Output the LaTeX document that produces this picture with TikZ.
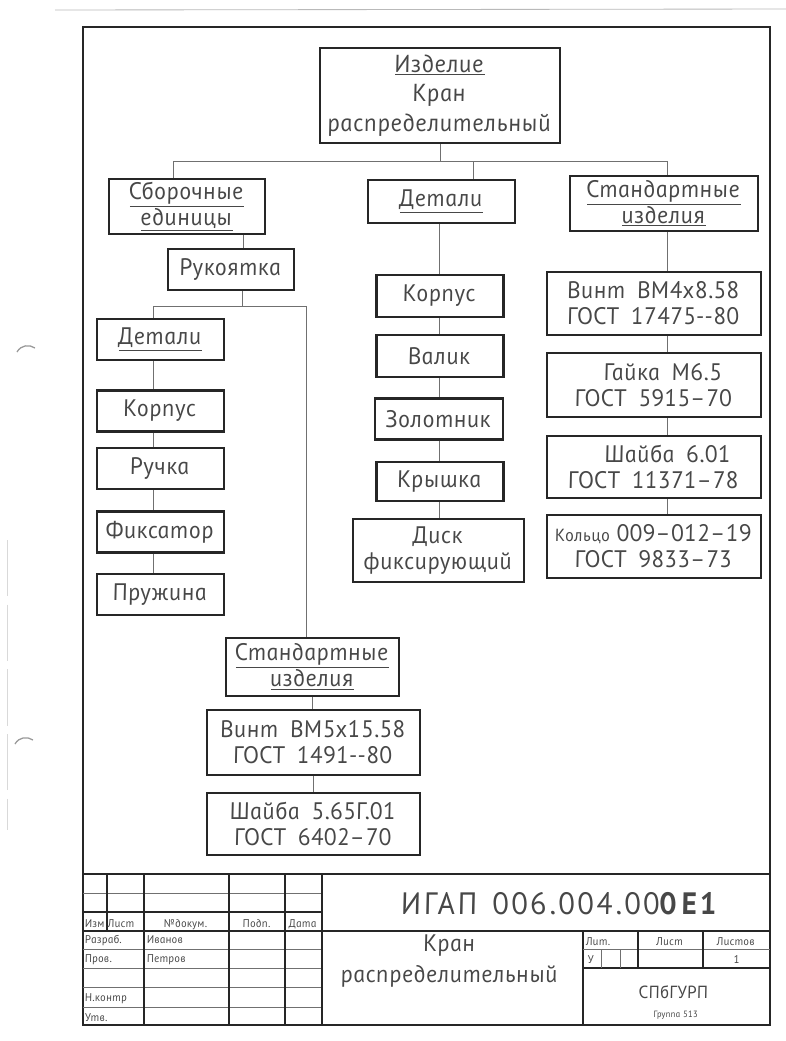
\documentclass[tikz,border=0pt]{standalone}
\usepackage{fontspec}
\setmainfont{PT Sans}[
  ItalicFeatures={FakeSlant=-0.19},
  BoldItalicFeatures={FakeSlant=-0.19},
  LetterSpace=2.5]
\usetikzlibrary{calc}
\definecolor{ink}{HTML}{474747}
\definecolor{rule}{HTML}{262626}
\definecolor{thin}{HTML}{707070}
\newcommand{\px}{0.025cm}
\tikzset{
        spec-box/.style={
            draw=rule, line width=1.5pt, fill=white, inner sep=0pt,
            align=center, text=ink, font=\itshape\fontsize{17}{18.5}\selectfont
        },
        col-box/.style={spec-box, minimum width=127*\px, minimum height=41*\px},
        std-box/.style={spec-box, minimum width=214*\px, minimum height=63*\px},
        link/.style={draw=thin, line width=0.7pt},
        frame/.style={draw=rule, line width=1.6pt},
        tb-thick/.style={draw=rule, line width=1.3pt},
        tb-thin/.style={draw=thin, line width=0.5pt},
        tb-small/.style={text=ink, inner sep=0pt, font=\itshape\fontsize{8}{9}\selectfont},
        tb-big/.style={text=ink, inner sep=0pt, align=center, font=\itshape\fontsize{17}{22}\selectfont},
}

\begin{document}
\begin{tikzpicture}[x=\px, y=-\px]

        \useasboundingbox (0,0) rectangle (786,1041);

        % PAPER EDGE AND PUNCH MARKS
        \draw [gray!55, line width=0.6pt] (55,10) -- (786,9);
        \draw [gray!30, line width=0.5pt, dash pattern=on 40 off 6] (7,540) -- (7,830);
        \draw [gray!80, line width=0.9pt] (17,352) .. controls (21,345) and (29,344) .. (35,348);
        \draw [gray!80, line width=0.9pt] (15,744) .. controls (19,737) and (27,736) .. (33,740);

        % SHEET FRAME
        \draw [frame] (83,27) rectangle (770,1025);

        % DRAW NODES (tree heads first, the rest below them)
        \node[spec-box, minimum width=240*\px, minimum height=95*\px,
              font=\itshape\fontsize{17.5}{21}\selectfont]
                                     (IZD)     at (440,95.5)             {\underline{Изделие}\\Кран\\распределительный};
        \node[spec-box, minimum width=156*\px, minimum height=55*\px]
                                     (SBOR)    at ($(IZD)+(-253,111)$)   {\underline{Сборочные}\\\underline{единицы}};
        \node[spec-box, minimum width=147*\px, minimum height=43*\px]
                                     (DET)     at ($(IZD)+(1.5,106)$)    {\underline{Детали}};
        \node[spec-box, minimum width=188*\px, minimum height=55*\px]
                                     (STD)     at ($(IZD)+(224,108)$)    {\underline{Стандартные}\\\underline{изделия}};

        % assembly unit branch
        \node[col-box, minimum width=126*\px]
                                     (RUK)     at ($(SBOR)+(44,63)$)     {Рукоятка};
        \node[col-box]               (DET2)    at ($(RUK)+(-70.5,70)$)   {\underline{Детали}};
        \node[col-box]               (KORP2)   at ($(DET2)+(0,71.5)$)    {Корпус};
        \node[col-box]               (RUCH)    at ($(KORP2)+(0,57.5)$)   {Ручка};
        \node[col-box]               (FIKS)    at ($(RUCH)+(0,63.5)$)    {Фиксатор};
        \node[col-box]               (PRUZH)   at ($(FIKS)+(0,62.5)$)    {Пружина};
        \node[spec-box, minimum width=173*\px, minimum height=58*\px]
                                     (STD2)    at ($(RUK)+(81.5,397.5)$) {\underline{Стандартные}\\\underline{изделия}};
        \node[std-box, minimum width=213*\px, minimum height=65*\px]
                                     (VINT2)   at ($(STD2)+(1,75.5)$)    {Винт\enspace BM5x15.58\\ГОСТ\enspace 1491-{}-80};
        \node[std-box, minimum width=213*\px, minimum height=62*\px]
                                     (SHAIBA2) at ($(VINT2)+(0,81.5)$)   {Шайба\enspace 5.65Г.01\\ГОСТ\enspace 6402–70};

        % parts column
        \node[col-box, minimum height=42*\px]
                                     (KORP)    at ($(DET)+(-1.5,94.5)$)  {Корпус};
        \node[col-box, minimum height=42*\px]
                                     (VAL)     at ($(KORP)+(0,60)$)      {Валик};
        \node[col-box, minimum width=128*\px]
                                     (ZOL)     at ($(VAL)+(-1,63)$)      {Золотник};
        \node[col-box, minimum height=39*\px]
                                     (KRYSH)   at ($(ZOL)+(1,62.5)$)     {Крышка};
        \node[spec-box, minimum width=171*\px, minimum height=63*\px]
                                     (DISK)    at ($(KRYSH)+(-1.5,69)$)  {Диск\\фиксирующий};

        % standard items column
        \node[std-box]               (VINT)    at ($(STD)+(-10,100)$)    {Винт\enspace BM4x8.58\\ГОСТ\enspace 17475-{}-80};
        \node[std-box, minimum height=64*\px]
                                     (GAIKA)   at ($(VINT)+(0,81.5)$)    {\hspace*{0.8em}Гайка\enspace M6.5\\ГОСТ\enspace 5915–70};
        \node[std-box, minimum height=62*\px]
                                     (SHAIBA)  at ($(GAIKA)+(0,82)$)     {\hspace*{1.2em}Шайба\enspace 6.01\\ГОСТ\enspace 11371–78};
        \node[std-box]               (KOLCO)   at ($(SHAIBA)+(0,79.5)$)  {{\fontsize{12.5}{14}\selectfont Кольцо} 009–012–19\\ГОСТ\enspace 9833–73};

        % CONNECT TOP LEVEL
        \coordinate (BUS-L)  at ($(IZD)+(-267,65.5)$);
        \coordinate (BUS-R)  at ($(IZD)+(227,65.5)$);
        \coordinate (DET-IN) at ($(DET.north)+(31.5,0)$);
        \draw [link] (IZD.south) -- (IZD.south |- BUS-L);
        \draw [link] (SBOR.north -| BUS-L) -- (BUS-L) -- (BUS-R) -- (STD.north -| BUS-R);
        \draw [link] (DET-IN) -- (DET-IN |- BUS-L);

        % CONNECT ASSEMBLY UNIT
        \coordinate (SB-OUT) at ($(SBOR.south)+(56,0)$);
        \coordinate (RK-OUT) at ($(RUK.south)+(11,0)$);
        \coordinate (RB-L)   at ($(RUK.south)+(-78,15)$);
        \coordinate (RB-R)   at ($(RUK.south)+(75,15)$);
        \draw [link] (SB-OUT) -- (SB-OUT |- RUK.north);
        \draw [link] (RK-OUT) -- (RK-OUT |- RB-L);
        \draw [link] (DET2.north -| RB-L) -- (RB-L) -- (RB-R) -- (STD2.north -| RB-R);
        \foreach \a/\b in {DET2/KORP2, KORP2/RUCH, RUCH/FIKS, FIKS/PRUZH}
            \draw [link] (\a.south -| RB-L) -- (\b.north -| RB-L);
        \foreach \a/\b in {STD2/VINT2, VINT2/SHAIBA2}
            \draw [link] (\a.south) -- (\a.south |- \b.north);

        % CONNECT PARTS AND STANDARD ITEMS
        \coordinate (MID-X) at ($(DET.south)+(-2.5,0)$);
        \foreach \a/\b in {DET/KORP, KORP/VAL, VAL/ZOL, ZOL/KRYSH, KRYSH/DISK}
            \draw [link] (\a.south -| MID-X) -- (\b.north -| MID-X);
        \foreach \a/\b in {STD/VINT, VINT/GAIKA, GAIKA/SHAIBA, SHAIBA/KOLCO}
            \draw [link] (\a.south -| BUS-R) -- (\b.north -| BUS-R);

        % TITLE BLOCK GRID
        \draw [tb-thick] (83,874) -- (770,874);
        \draw [tb-thick] (83,912) -- (322,912);
        \draw [tb-thick] (83,931) -- (770,931);
        \foreach \y in {893, 949, 968, 987, 1007}
            \draw [tb-thin] (83,\y) -- (322,\y);
        \draw [tb-thick] (107,874) -- (107,931);
        \foreach \x in {144, 229, 285, 322}
            \draw [tb-thick] (\x,874) -- (\x,1025);
        \draw [tb-thick] (583,931) -- (583,1025);
        \draw [tb-thin]  (583,949) -- (770,949);
        \draw [tb-thick] (583,968) -- (770,968);
        \foreach \x in {638, 703}
            \draw [tb-thick] (\x,931) -- (\x,968);
        \foreach \x in {601, 620}
            \draw [tb-thin] (\x,949) -- (\x,968);

        % TITLE BLOCK TEXT
        \node[tb-small, anchor=base west] (T-IZM)  at (85,927)   {Изм Лист};
        \node[tb-small, anchor=base]      (T-DOC)  at (186,927)  {№докум.};
        \node[tb-small, anchor=base]      (T-SIGN) at (257,927)  {Подп.};
        \node[tb-small, anchor=base]      (T-DATE) at (303,927)  {Дата};
        \node[tb-small, anchor=base west] (T-DEV)  at (85,943)   {Разраб.};
        \node[tb-small, anchor=base west] (T-DEVN) at (147,943)  {Иванов};
        \node[tb-small, anchor=base west] (T-CHK)  at (85,962)   {Пров.};
        \node[tb-small, anchor=base west] (T-CHKN) at (147,962)  {Петров};
        \node[tb-small, anchor=base west] (T-NC)   at (85,1001)  {Н.контр};
        \node[tb-small, anchor=base west] (T-APP)  at (85,1021)  {Утв.};

        \node[tb-big, font=\itshape\fontsize{22}{24}\selectfont\addfontfeature{LetterSpace=9}]
                                          (T-CODE) at (560,904)  {ИГАП\enspace 006.004.00{\bfseries 0\,Е1}};
        \node[tb-big]                     (T-NAME) at (450,961)  {Кран\\распределительный};
        \node[tb-small, anchor=base west] (T-LIT)  at (586,945)  {Лит.};
        \node[tb-small, anchor=base]      (T-SH)   at (670,945)  {Лист};
        \node[tb-small, anchor=base]      (T-SHS)  at (736,945)  {Листов};
        \node[tb-small, anchor=base]      (T-U)    at (591,963)  {У};
        \node[tb-small, anchor=base]      (T-ONE)  at (737,963)  {1};
        \node[tb-big, font=\itshape\fontsize{12.5}{14}\selectfont]
                                          (T-ORG)  at (674,992)  {СПбГУРП};
        \node[tb-small, anchor=base, font=\itshape\fontsize{6.5}{7}\selectfont]
                                          (T-GRP)  at (676,1017) {Группа 513};

\end{tikzpicture}
\end{document}
